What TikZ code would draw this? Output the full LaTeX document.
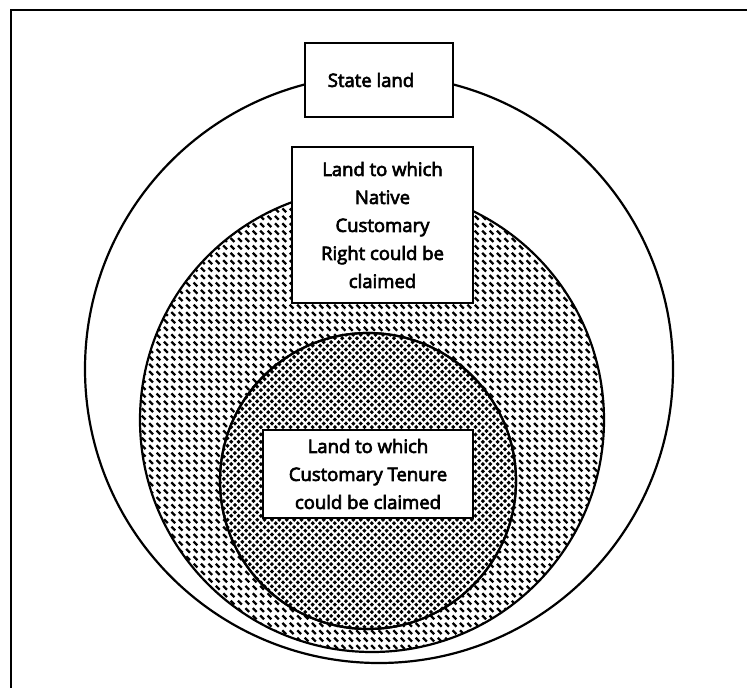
\documentclass[tikz,border=0pt]{standalone}
\usepackage{fontspec}
\setmainfont{Open Sans}[FakeBold=3.5]
\usetikzlibrary{patterns}

% short back-slanted dashes on a square grid
\pgfdeclarepatternformonly{backdash}{\pgfqpoint{-1pt}{-1pt}}{\pgfqpoint{9pt}{9pt}}{\pgfqpoint{7.4pt}{7.4pt}}{%
  \pgfsetlinewidth{2.3pt}%
  \pgfsetbuttcap
  \pgfpathmoveto{\pgfqpoint{1.2pt}{5.9pt}}%
  \pgfpathlineto{\pgfqpoint{5.0pt}{2.1pt}}%
  \pgfusepath{stroke}%
}

% dense blotches laid out in a zigzag
\pgfdeclarepatternformonly{zigdots}{\pgfqpoint{-1pt}{-1pt}}{\pgfqpoint{9pt}{9pt}}{\pgfqpoint{7.4pt}{7.4pt}}{%
  \pgfsetlinewidth{3pt}%
  \pgfsetbuttcap
  \pgfpathmoveto{\pgfqpoint{0.8pt}{0.9pt}}%
  \pgfpathlineto{\pgfqpoint{2.9pt}{3.0pt}}%
  \pgfpathmoveto{\pgfqpoint{4.5pt}{6.5pt}}%
  \pgfpathlineto{\pgfqpoint{6.6pt}{4.4pt}}%
  \pgfusepath{stroke}%
}

\tikzset{
  ring/.style={line width=2.2pt},
  labelbox/.style={draw, line width=2pt, fill=white, inner sep=0pt,
    align=center, font=\fontsize{18.5}{28}\selectfont},
}

\begin{document}
\begin{tikzpicture}[x=1pt,y=-1pt]
\useasboundingbox (0,0) rectangle (747,688);

% frame: top edge and left edge
\coordinate (tl) at (11,10);
\coordinate (tr) at (747,10);
\coordinate (bl) at (11,688);
\draw[line width=2pt] (tr) -- (tl) -- (bl);

% nested areas
\draw[ring, fill=white] (379,369) circle[radius=294pt];
\draw[ring, pattern=backdash] (372,420) circle[radius=232pt];
\draw[ring, fill=white] (368,481) circle[radius=148pt];
\draw[ring, pattern=zigdots] (368,481) circle[radius=148pt];

% labels
\node[labelbox, minimum width=148pt, minimum height=74pt] (state) at (379,80)
  {State land\hspace*{16pt}};
\node[labelbox, minimum width=181pt, minimum height=156pt] (native) at (382.5,225)
  {Land to which\\Native\\Customary\\Right could be\\claimed};
\node[labelbox, minimum width=210pt, minimum height=88pt] (tenure) at (368,474)
  {Land to which\\Customary Tenure\\could be claimed};
\end{tikzpicture}
\end{document}
